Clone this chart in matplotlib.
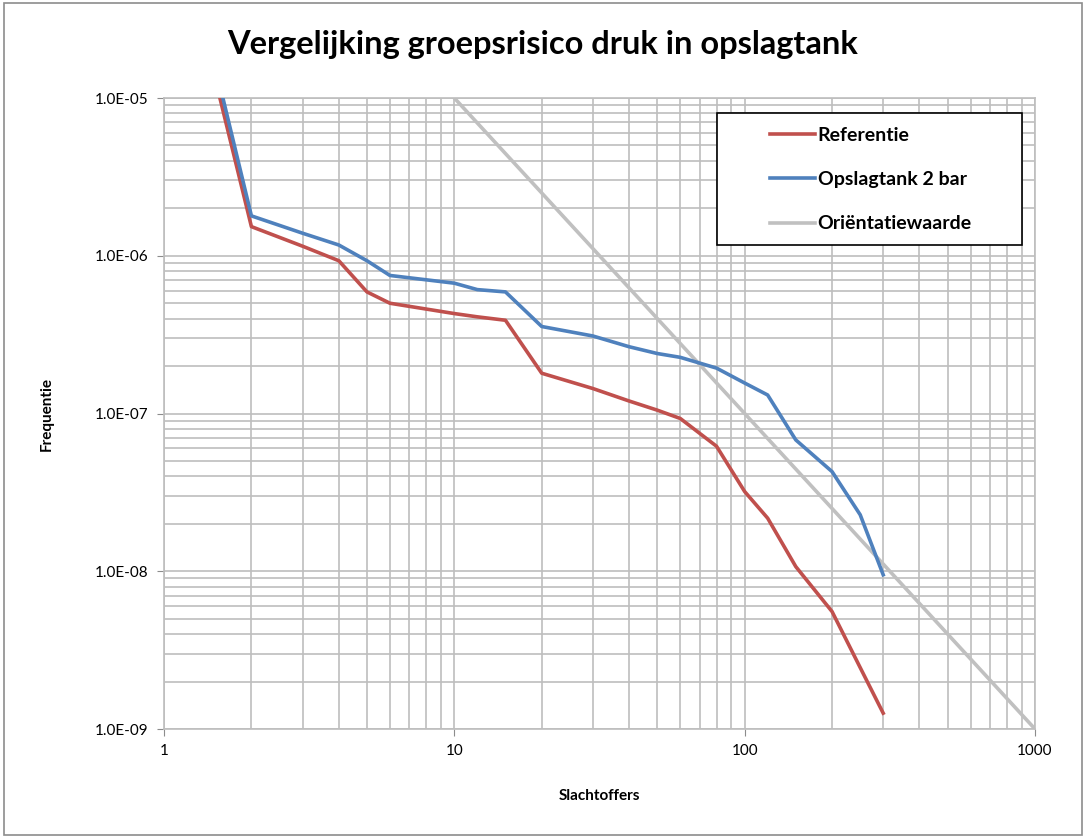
import numpy as np
import matplotlib.pyplot as plt
from matplotlib.ticker import FuncFormatter, LogLocator, NullFormatter

# Data
slachtoffers = [1, 2, 3, 4, 5, 6, 10, 12, 15, 20, 30, 40, 50, 60, 80, 100, 120, 150, 200, 250, 300]
referentie = [2.8e-4, 1.53e-6, 1.15e-6, 9.3e-7, 5.9e-7, 5.0e-7, 4.3e-7, 4.1e-7, 3.9e-7, 1.8e-7,
              1.44e-7, 1.2e-7, 1.05e-7, 9.3e-8, 6.2e-8, 3.2e-8, 2.17e-8, 1.07e-8, 5.55e-9, 2.45e-9, 1.26e-9]
opslagtank = [3.5e-4, 1.79e-6, 1.39e-6, 1.17e-6, 9.3e-7, 7.5e-7, 6.7e-7, 6.1e-7, 5.9e-7, 3.56e-7,
              3.1e-7, 2.65e-7, 2.4e-7, 2.27e-7, 1.94e-7, 1.56e-7, 1.31e-7, 6.8e-8, 4.28e-8, 2.28e-8, 9.5e-9]
orient_n = [10, 1000]
orient_f = [1e-5, 1e-9]
x_ticks = [1, 10, 100, 1000]
y_ticks = [1e-9, 1e-8, 1e-7, 1e-6, 1e-5]

plt.rcParams['font.family'] = ['Lato', 'DejaVu Sans']

W, H = 1086, 838
fig = plt.figure(figsize=(W / 100, H / 100), dpi=100)
ax = fig.add_axes([164 / W, 1 - 729 / H, (1035 - 164) / W, (729 - 98) / H])

ax.plot(slachtoffers, referentie, color='#C0504D', lw=2.6, label='Referentie', zorder=3)
ax.plot(slachtoffers, opslagtank, color='#4F81BD', lw=2.6, label='Opslagtank 2 bar', zorder=4)
ax.plot(orient_n, orient_f, color='#C0C0C0', lw=2.6, label='Oriëntatiewaarde', zorder=2)

ax.set_xscale('log')
ax.set_yscale('log')
ax.set_xticks(x_ticks)
ax.set_yticks(y_ticks)
ax.set_xlim(1, 1000)
ax.set_ylim(1e-9, 1e-5)

ax.xaxis.set_minor_locator(LogLocator(base=10, subs=np.arange(2, 10), numticks=10))
ax.yaxis.set_minor_locator(LogLocator(base=10, subs=np.arange(2, 10), numticks=10))
ax.xaxis.set_minor_formatter(NullFormatter())
ax.yaxis.set_minor_formatter(NullFormatter())
ax.xaxis.set_major_formatter(FuncFormatter(lambda v, p: '%d' % round(v)))
ax.yaxis.set_major_formatter(FuncFormatter(lambda v, p: '1.0E-%02d' % round(-np.log10(v))))

ax.grid(True, which='both', color='#BEBEBE', lw=1.2)
ax.set_axisbelow(True)
for s in ax.spines.values():
    s.set_color('#BEBEBE')
    s.set_linewidth(1.2)
ax.tick_params(which='major', length=5, color='#8C8C8C', labelsize=11, pad=6)
ax.tick_params(which='minor', length=0)

ax.set_xlabel('Slachtoffers', fontsize=11, fontweight='bold', labelpad=22)
ax.set_ylabel('Frequentie', fontsize=11, fontweight='bold', labelpad=30)

fig.text(0.5, 0.947, 'Vergelijking groepsrisico druk in opslagtank', ha='center', va='center',
         fontsize=23.5, fontweight='bold')

# legend box drawn separately, legend itself without frame on top of it
ax.add_patch(plt.Rectangle((717 / W, 1 - 245 / H), (1022 - 717) / W, (245 - 113) / H,
                           transform=fig.transFigure, facecolor='white', edgecolor='black',
                           lw=1.2, zorder=5, clip_on=False))
leg = ax.legend(loc='upper left', bbox_to_anchor=(770 / W, 1 - 127 / H), bbox_transform=fig.transFigure,
                frameon=False, fontsize=14, handlelength=2.3, labelspacing=1.4,
                borderpad=0, handletextpad=0.15, borderaxespad=0)
leg.set_zorder(6)
for t in leg.get_texts():
    t.set_fontweight('bold')

# outer chart border
fig.patches.append(plt.Rectangle((0.004, 0.004), 0.992, 0.992, transform=fig.transFigure,
                                 fill=False, edgecolor='#8C8C8C', lw=1.2))

fig.savefig('out.png', dpi=100)
